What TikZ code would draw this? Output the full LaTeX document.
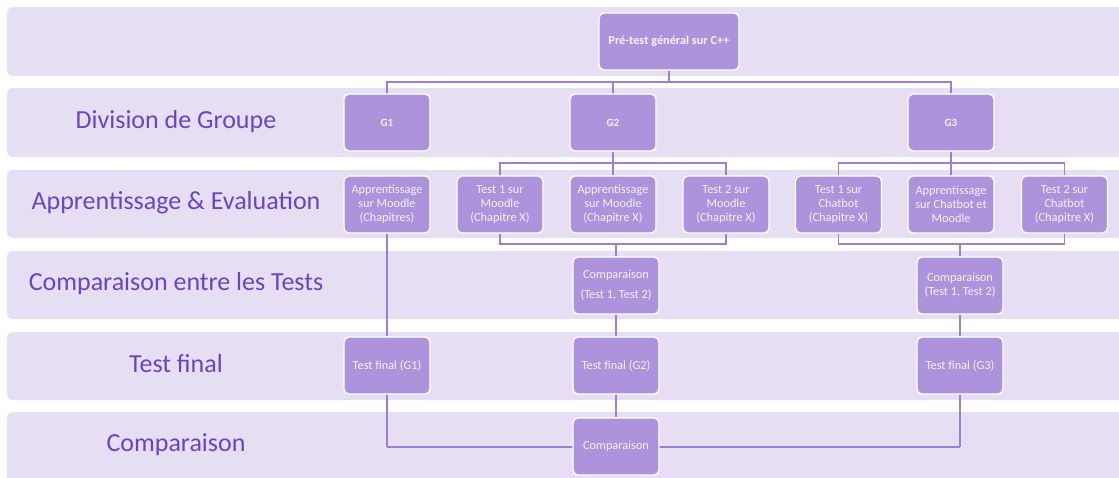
\documentclass[tikz,border=0pt]{standalone}
\usepackage{fontspec}
\setmainfont{Carlito}
\definecolor{band}{HTML}{E6DEF3}
\definecolor{boxfill}{HTML}{AC93DC}
\definecolor{linec}{HTML}{9A7FD5}
\definecolor{labelc}{HTML}{6A44C2}
\definecolor{boxtext}{HTML}{F6F2FC}
\tikzset{
  bandbox/.style={fill=band, draw=none, rounded corners=6pt},
  stepbox/.style={fill=boxfill, draw=white, line width=1.4pt, rounded corners=5pt,
     minimum width=86pt, minimum height=57pt, inner sep=1pt, align=center,
     text=boxtext, font=\fontsize{12.3}{14}\selectfont},
  grpbox/.style={stepbox, font=\bfseries\fontsize{11}{13}\selectfont},
  rowlabel/.style={text=labelc, font=\fontsize{26}{29}\selectfont, anchor=center},
  conn/.style={draw=linec, line width=1.3pt}
}
\begin{document}
\begin{tikzpicture}[x=1pt,y=-1pt]
\useasboundingbox (0,0) rectangle (1119,477);
% bands
\foreach \t/\b in {7/76, 88/157, 170/238, 251/319, 332/400, 412/490}{
  \fill[bandbox] (7,\t) rectangle (1135,\b);
}
% row labels
\node[rowlabel] (l2) at (176,122) {Division de Groupe};
\node[rowlabel] (l3) at (176,203) {Apprentissage \& Evaluation};
\node[rowlabel] (l4) at (176,284) {Comparaison entre les Tests};
\node[rowlabel] (l5) at (176,364) {Test final};
\node[rowlabel] (l6) at (176,445) {Comparaison};
% coordinates for buses
\coordinate (tb) at (669,82);
\coordinate (b2t) at (613,163);
\coordinate (b3t) at (951,163);
\coordinate (b2b) at (616,244);
\coordinate (b3b) at (960,244);
% nodes
\node[stepbox, minimum width=140pt, font=\bfseries\fontsize{12.3}{14}\selectfont] (pre) at (669,41.5) {Pré-test général sur C++};
\node[grpbox] (g1) at (387,122.5) {G1};
\node[grpbox] (g2) at (613,122.5) {G2};
\node[grpbox] (g3) at (951,122.5) {G3};
\node[stepbox] (a1) at (387,204.5) {Apprentissage\\sur Moodle\\(Chapitres)};
\node[stepbox] (t1m) at (500,204.5) {Test 1 sur\\Moodle\\(Chapitre X)};
\node[stepbox] (am) at (613,204.5) {Apprentissage\\sur Moodle\\(Chapitre X)};
\node[stepbox] (t2m) at (726,204.5) {Test 2 sur\\Moodle\\(Chapitre X)};
\node[stepbox] (t1c) at (838.5,204.5) {Test 1 sur\\Chatbot\\(Chapitre X)};
\node[stepbox] (ac) at (951,204.5) {Apprentissage\\sur Chatbot et\\Moodle};
\node[stepbox] (t2c) at (1064.5,204.5) {Test 2 sur\\Chatbot\\(Chapitre X)};
% connectors
\draw[conn] (pre.south) -- (tb);
\draw[conn] (g1.north) |- (tb) -| (g3.north);
\draw[conn] (g2.north) -- (g2.north |- tb);
\draw[conn] (g2.south) -- (am.north);
\draw[conn] (t1m.north) |- (b2t) -| (t2m.north);
\draw[conn] (g3.south) -- (ac.north);
\draw[conn] (t1c.north) |- (b3t) -| (t2c.north);
\draw[conn] (t1m.south) |- (b2b) -| (t2m.south);
\draw[conn] (t1c.south) |- (b3b) -| (t2c.south);
\coordinate (fl) at (387,447);
\coordinate (fr) at (960,447);
\draw[conn] (fl) -- (fr);
\node[stepbox, font=\fontsize{12.3}{20}\selectfont] (cm) at (616,285.5) {Comparaison\\(Test 1, Test 2)};
\node[stepbox] (cc) at (960,285.5) {Comparaison\\(Test 1, Test 2)};
\node[stepbox] (tf1) at (387,365.5) {Test final (G1)};
\node[stepbox] (tf2) at (616,365.5) {Test final (G2)};
\node[stepbox] (tf3) at (960,365.5) {Test final (G3)};
\node[stepbox] (cf) at (616,446.5) {Comparaison};
\draw[conn] (a1.south) -- (tf1.north);
\draw[conn] (b2b) -- (cm.north);
\draw[conn] (b3b) -- (cc.north);
\draw[conn] (cm.south) -- (tf2.north);
\draw[conn] (cc.south) -- (tf3.north);
\draw[conn] (tf1.south) -- (fl);
\draw[conn] (tf3.south) -- (fr);
\draw[conn] (tf2.south) -- (cf.north);
\end{tikzpicture}
\end{document}
